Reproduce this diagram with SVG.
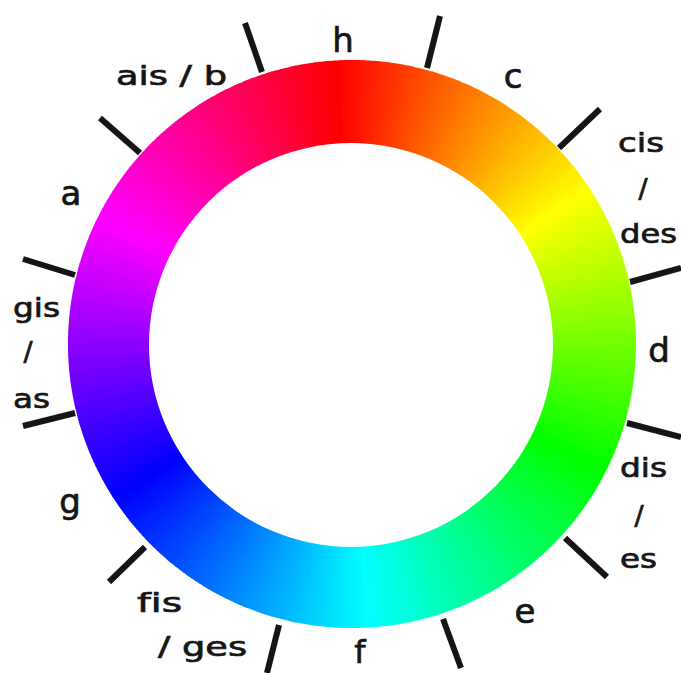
<svg xmlns="http://www.w3.org/2000/svg" xmlns:xlink="http://www.w3.org/1999/xlink" width="681" height="673" viewBox="0 0 681 673">
<style>
.lbl{font-family:"DejaVu Sans","Liberation Sans",sans-serif;font-size:27px;fill:#151515;stroke:#151515;stroke-width:0.7;font-variant-ligatures:none}
.big{font-size:34px;text-anchor:middle}
.mid{text-anchor:middle}
.tick{stroke:#151515;stroke-width:6;stroke-linecap:butt}
</style>
<defs>
<path id="w" d="M0,0 L-2.97,-283.98 A284,284 0 0 1 2.97,-283.98 Z"/>
</defs>
<rect width="681" height="673" fill="#ffffff"/>
<g id="ring">
<g transform="translate(352,344)">
<use href="#w" transform="rotate(0)" fill="hsl(3,100%,50%)"/>
<use href="#w" transform="rotate(1)" fill="hsl(4,100%,50%)"/>
<use href="#w" transform="rotate(2)" fill="hsl(5,100%,50%)"/>
<use href="#w" transform="rotate(3)" fill="hsl(6,100%,50%)"/>
<use href="#w" transform="rotate(4)" fill="hsl(7,100%,50%)"/>
<use href="#w" transform="rotate(5)" fill="hsl(8,100%,50%)"/>
<use href="#w" transform="rotate(6)" fill="hsl(9,100%,50%)"/>
<use href="#w" transform="rotate(7)" fill="hsl(10,100%,50%)"/>
<use href="#w" transform="rotate(8)" fill="hsl(11,100%,50%)"/>
<use href="#w" transform="rotate(9)" fill="hsl(12,100%,50%)"/>
<use href="#w" transform="rotate(10)" fill="hsl(13,100%,50%)"/>
<use href="#w" transform="rotate(11)" fill="hsl(14,100%,50%)"/>
<use href="#w" transform="rotate(12)" fill="hsl(15,100%,50%)"/>
<use href="#w" transform="rotate(13)" fill="hsl(16,100%,50%)"/>
<use href="#w" transform="rotate(14)" fill="hsl(17,100%,50%)"/>
<use href="#w" transform="rotate(15)" fill="hsl(18,100%,50%)"/>
<use href="#w" transform="rotate(16)" fill="hsl(19,100%,50%)"/>
<use href="#w" transform="rotate(17)" fill="hsl(20,100%,50%)"/>
<use href="#w" transform="rotate(18)" fill="hsl(21,100%,50%)"/>
<use href="#w" transform="rotate(19)" fill="hsl(22,100%,50%)"/>
<use href="#w" transform="rotate(20)" fill="hsl(23,100%,50%)"/>
<use href="#w" transform="rotate(21)" fill="hsl(24,100%,50%)"/>
<use href="#w" transform="rotate(22)" fill="hsl(25,100%,50%)"/>
<use href="#w" transform="rotate(23)" fill="hsl(26,100%,50%)"/>
<use href="#w" transform="rotate(24)" fill="hsl(27,100%,50%)"/>
<use href="#w" transform="rotate(25)" fill="hsl(28,100%,50%)"/>
<use href="#w" transform="rotate(26)" fill="hsl(29,100%,50%)"/>
<use href="#w" transform="rotate(27)" fill="hsl(30,100%,50%)"/>
<use href="#w" transform="rotate(28)" fill="hsl(31,100%,50%)"/>
<use href="#w" transform="rotate(29)" fill="hsl(32,100%,50%)"/>
<use href="#w" transform="rotate(30)" fill="hsl(33,100%,50%)"/>
<use href="#w" transform="rotate(31)" fill="hsl(34,100%,50%)"/>
<use href="#w" transform="rotate(32)" fill="hsl(35,100%,50%)"/>
<use href="#w" transform="rotate(33)" fill="hsl(36,100%,50%)"/>
<use href="#w" transform="rotate(34)" fill="hsl(37,100%,50%)"/>
<use href="#w" transform="rotate(35)" fill="hsl(38,100%,50%)"/>
<use href="#w" transform="rotate(36)" fill="hsl(39,100%,50%)"/>
<use href="#w" transform="rotate(37)" fill="hsl(40,100%,50%)"/>
<use href="#w" transform="rotate(38)" fill="hsl(41,100%,50%)"/>
<use href="#w" transform="rotate(39)" fill="hsl(42,100%,50%)"/>
<use href="#w" transform="rotate(40)" fill="hsl(43,100%,50%)"/>
<use href="#w" transform="rotate(41)" fill="hsl(44,100%,50%)"/>
<use href="#w" transform="rotate(42)" fill="hsl(45,100%,50%)"/>
<use href="#w" transform="rotate(43)" fill="hsl(46,100%,50%)"/>
<use href="#w" transform="rotate(44)" fill="hsl(47,100%,50%)"/>
<use href="#w" transform="rotate(45)" fill="hsl(48,100%,50%)"/>
<use href="#w" transform="rotate(46)" fill="hsl(49,100%,50%)"/>
<use href="#w" transform="rotate(47)" fill="hsl(50,100%,50%)"/>
<use href="#w" transform="rotate(48)" fill="hsl(51,100%,50%)"/>
<use href="#w" transform="rotate(49)" fill="hsl(52,100%,50%)"/>
<use href="#w" transform="rotate(50)" fill="hsl(53,100%,50%)"/>
<use href="#w" transform="rotate(51)" fill="hsl(54,100%,50%)"/>
<use href="#w" transform="rotate(52)" fill="hsl(55,100%,50%)"/>
<use href="#w" transform="rotate(53)" fill="hsl(56,100%,50%)"/>
<use href="#w" transform="rotate(54)" fill="hsl(57,100%,50%)"/>
<use href="#w" transform="rotate(55)" fill="hsl(58,100%,50%)"/>
<use href="#w" transform="rotate(56)" fill="hsl(59,100%,50%)"/>
<use href="#w" transform="rotate(57)" fill="hsl(60,100%,50%)"/>
<use href="#w" transform="rotate(58)" fill="hsl(61,100%,50%)"/>
<use href="#w" transform="rotate(59)" fill="hsl(62,100%,50%)"/>
<use href="#w" transform="rotate(60)" fill="hsl(63,100%,50%)"/>
<use href="#w" transform="rotate(61)" fill="hsl(64,100%,50%)"/>
<use href="#w" transform="rotate(62)" fill="hsl(65,100%,50%)"/>
<use href="#w" transform="rotate(63)" fill="hsl(66,100%,50%)"/>
<use href="#w" transform="rotate(64)" fill="hsl(67,100%,50%)"/>
<use href="#w" transform="rotate(65)" fill="hsl(68,100%,50%)"/>
<use href="#w" transform="rotate(66)" fill="hsl(69,100%,50%)"/>
<use href="#w" transform="rotate(67)" fill="hsl(70,100%,50%)"/>
<use href="#w" transform="rotate(68)" fill="hsl(71,100%,50%)"/>
<use href="#w" transform="rotate(69)" fill="hsl(72,100%,50%)"/>
<use href="#w" transform="rotate(70)" fill="hsl(73,100%,50%)"/>
<use href="#w" transform="rotate(71)" fill="hsl(74,100%,50%)"/>
<use href="#w" transform="rotate(72)" fill="hsl(75,100%,50%)"/>
<use href="#w" transform="rotate(73)" fill="hsl(76,100%,50%)"/>
<use href="#w" transform="rotate(74)" fill="hsl(77,100%,50%)"/>
<use href="#w" transform="rotate(75)" fill="hsl(78,100%,50%)"/>
<use href="#w" transform="rotate(76)" fill="hsl(79,100%,50%)"/>
<use href="#w" transform="rotate(77)" fill="hsl(80,100%,50%)"/>
<use href="#w" transform="rotate(78)" fill="hsl(81,100%,50%)"/>
<use href="#w" transform="rotate(79)" fill="hsl(82,100%,50%)"/>
<use href="#w" transform="rotate(80)" fill="hsl(83,100%,50%)"/>
<use href="#w" transform="rotate(81)" fill="hsl(84,100%,50%)"/>
<use href="#w" transform="rotate(82)" fill="hsl(85,100%,50%)"/>
<use href="#w" transform="rotate(83)" fill="hsl(86,100%,50%)"/>
<use href="#w" transform="rotate(84)" fill="hsl(87,100%,50%)"/>
<use href="#w" transform="rotate(85)" fill="hsl(88,100%,50%)"/>
<use href="#w" transform="rotate(86)" fill="hsl(89,100%,50%)"/>
<use href="#w" transform="rotate(87)" fill="hsl(90,100%,50%)"/>
<use href="#w" transform="rotate(88)" fill="hsl(91,100%,50%)"/>
<use href="#w" transform="rotate(89)" fill="hsl(92,100%,50%)"/>
<use href="#w" transform="rotate(90)" fill="hsl(93,100%,50%)"/>
<use href="#w" transform="rotate(91)" fill="hsl(94,100%,50%)"/>
<use href="#w" transform="rotate(92)" fill="hsl(95,100%,50%)"/>
<use href="#w" transform="rotate(93)" fill="hsl(96,100%,50%)"/>
<use href="#w" transform="rotate(94)" fill="hsl(97,100%,50%)"/>
<use href="#w" transform="rotate(95)" fill="hsl(98,100%,50%)"/>
<use href="#w" transform="rotate(96)" fill="hsl(99,100%,50%)"/>
<use href="#w" transform="rotate(97)" fill="hsl(100,100%,50%)"/>
<use href="#w" transform="rotate(98)" fill="hsl(101,100%,50%)"/>
<use href="#w" transform="rotate(99)" fill="hsl(102,100%,50%)"/>
<use href="#w" transform="rotate(100)" fill="hsl(103,100%,50%)"/>
<use href="#w" transform="rotate(101)" fill="hsl(104,100%,50%)"/>
<use href="#w" transform="rotate(102)" fill="hsl(105,100%,50%)"/>
<use href="#w" transform="rotate(103)" fill="hsl(106,100%,50%)"/>
<use href="#w" transform="rotate(104)" fill="hsl(107,100%,50%)"/>
<use href="#w" transform="rotate(105)" fill="hsl(108,100%,50%)"/>
<use href="#w" transform="rotate(106)" fill="hsl(109,100%,50%)"/>
<use href="#w" transform="rotate(107)" fill="hsl(110,100%,50%)"/>
<use href="#w" transform="rotate(108)" fill="hsl(111,100%,50%)"/>
<use href="#w" transform="rotate(109)" fill="hsl(112,100%,50%)"/>
<use href="#w" transform="rotate(110)" fill="hsl(113,100%,50%)"/>
<use href="#w" transform="rotate(111)" fill="hsl(114,100%,50%)"/>
<use href="#w" transform="rotate(112)" fill="hsl(115,100%,50%)"/>
<use href="#w" transform="rotate(113)" fill="hsl(116,100%,50%)"/>
<use href="#w" transform="rotate(114)" fill="hsl(117,100%,50%)"/>
<use href="#w" transform="rotate(115)" fill="hsl(118,100%,50%)"/>
<use href="#w" transform="rotate(116)" fill="hsl(119,100%,50%)"/>
<use href="#w" transform="rotate(117)" fill="hsl(120,100%,50%)"/>
<use href="#w" transform="rotate(118)" fill="hsl(121,100%,50%)"/>
<use href="#w" transform="rotate(119)" fill="hsl(122,100%,50%)"/>
<use href="#w" transform="rotate(120)" fill="hsl(123,100%,50%)"/>
<use href="#w" transform="rotate(121)" fill="hsl(124,100%,50%)"/>
<use href="#w" transform="rotate(122)" fill="hsl(125,100%,50%)"/>
<use href="#w" transform="rotate(123)" fill="hsl(126,100%,50%)"/>
<use href="#w" transform="rotate(124)" fill="hsl(127,100%,50%)"/>
<use href="#w" transform="rotate(125)" fill="hsl(128,100%,50%)"/>
<use href="#w" transform="rotate(126)" fill="hsl(129,100%,50%)"/>
<use href="#w" transform="rotate(127)" fill="hsl(130,100%,50%)"/>
<use href="#w" transform="rotate(128)" fill="hsl(131,100%,50%)"/>
<use href="#w" transform="rotate(129)" fill="hsl(132,100%,50%)"/>
<use href="#w" transform="rotate(130)" fill="hsl(133,100%,50%)"/>
<use href="#w" transform="rotate(131)" fill="hsl(134,100%,50%)"/>
<use href="#w" transform="rotate(132)" fill="hsl(135,100%,50%)"/>
<use href="#w" transform="rotate(133)" fill="hsl(136,100%,50%)"/>
<use href="#w" transform="rotate(134)" fill="hsl(137,100%,50%)"/>
<use href="#w" transform="rotate(135)" fill="hsl(138,100%,50%)"/>
<use href="#w" transform="rotate(136)" fill="hsl(139,100%,50%)"/>
<use href="#w" transform="rotate(137)" fill="hsl(140,100%,50%)"/>
<use href="#w" transform="rotate(138)" fill="hsl(141,100%,50%)"/>
<use href="#w" transform="rotate(139)" fill="hsl(142,100%,50%)"/>
<use href="#w" transform="rotate(140)" fill="hsl(143,100%,50%)"/>
<use href="#w" transform="rotate(141)" fill="hsl(144,100%,50%)"/>
<use href="#w" transform="rotate(142)" fill="hsl(145,100%,50%)"/>
<use href="#w" transform="rotate(143)" fill="hsl(146,100%,50%)"/>
<use href="#w" transform="rotate(144)" fill="hsl(147,100%,50%)"/>
<use href="#w" transform="rotate(145)" fill="hsl(148,100%,50%)"/>
<use href="#w" transform="rotate(146)" fill="hsl(149,100%,50%)"/>
<use href="#w" transform="rotate(147)" fill="hsl(150,100%,50%)"/>
<use href="#w" transform="rotate(148)" fill="hsl(151,100%,50%)"/>
<use href="#w" transform="rotate(149)" fill="hsl(152,100%,50%)"/>
<use href="#w" transform="rotate(150)" fill="hsl(153,100%,50%)"/>
<use href="#w" transform="rotate(151)" fill="hsl(154,100%,50%)"/>
<use href="#w" transform="rotate(152)" fill="hsl(155,100%,50%)"/>
<use href="#w" transform="rotate(153)" fill="hsl(156,100%,50%)"/>
<use href="#w" transform="rotate(154)" fill="hsl(157,100%,50%)"/>
<use href="#w" transform="rotate(155)" fill="hsl(158,100%,50%)"/>
<use href="#w" transform="rotate(156)" fill="hsl(159,100%,50%)"/>
<use href="#w" transform="rotate(157)" fill="hsl(160,100%,50%)"/>
<use href="#w" transform="rotate(158)" fill="hsl(161,100%,50%)"/>
<use href="#w" transform="rotate(159)" fill="hsl(162,100%,50%)"/>
<use href="#w" transform="rotate(160)" fill="hsl(163,100%,50%)"/>
<use href="#w" transform="rotate(161)" fill="hsl(164,100%,50%)"/>
<use href="#w" transform="rotate(162)" fill="hsl(165,100%,50%)"/>
<use href="#w" transform="rotate(163)" fill="hsl(166,100%,50%)"/>
<use href="#w" transform="rotate(164)" fill="hsl(167,100%,50%)"/>
<use href="#w" transform="rotate(165)" fill="hsl(168,100%,50%)"/>
<use href="#w" transform="rotate(166)" fill="hsl(169,100%,50%)"/>
<use href="#w" transform="rotate(167)" fill="hsl(170,100%,50%)"/>
<use href="#w" transform="rotate(168)" fill="hsl(171,100%,50%)"/>
<use href="#w" transform="rotate(169)" fill="hsl(172,100%,50%)"/>
<use href="#w" transform="rotate(170)" fill="hsl(173,100%,50%)"/>
<use href="#w" transform="rotate(171)" fill="hsl(174,100%,50%)"/>
<use href="#w" transform="rotate(172)" fill="hsl(175,100%,50%)"/>
<use href="#w" transform="rotate(173)" fill="hsl(176,100%,50%)"/>
<use href="#w" transform="rotate(174)" fill="hsl(177,100%,50%)"/>
<use href="#w" transform="rotate(175)" fill="hsl(178,100%,50%)"/>
<use href="#w" transform="rotate(176)" fill="hsl(179,100%,50%)"/>
<use href="#w" transform="rotate(177)" fill="hsl(180,100%,50%)"/>
<use href="#w" transform="rotate(178)" fill="hsl(181,100%,50%)"/>
<use href="#w" transform="rotate(179)" fill="hsl(182,100%,50%)"/>
<use href="#w" transform="rotate(180)" fill="hsl(183,100%,50%)"/>
<use href="#w" transform="rotate(181)" fill="hsl(184,100%,50%)"/>
<use href="#w" transform="rotate(182)" fill="hsl(185,100%,50%)"/>
<use href="#w" transform="rotate(183)" fill="hsl(186,100%,50%)"/>
<use href="#w" transform="rotate(184)" fill="hsl(187,100%,50%)"/>
<use href="#w" transform="rotate(185)" fill="hsl(188,100%,50%)"/>
<use href="#w" transform="rotate(186)" fill="hsl(189,100%,50%)"/>
<use href="#w" transform="rotate(187)" fill="hsl(190,100%,50%)"/>
<use href="#w" transform="rotate(188)" fill="hsl(191,100%,50%)"/>
<use href="#w" transform="rotate(189)" fill="hsl(192,100%,50%)"/>
<use href="#w" transform="rotate(190)" fill="hsl(193,100%,50%)"/>
<use href="#w" transform="rotate(191)" fill="hsl(194,100%,50%)"/>
<use href="#w" transform="rotate(192)" fill="hsl(195,100%,50%)"/>
<use href="#w" transform="rotate(193)" fill="hsl(196,100%,50%)"/>
<use href="#w" transform="rotate(194)" fill="hsl(197,100%,50%)"/>
<use href="#w" transform="rotate(195)" fill="hsl(198,100%,50%)"/>
<use href="#w" transform="rotate(196)" fill="hsl(199,100%,50%)"/>
<use href="#w" transform="rotate(197)" fill="hsl(200,100%,50%)"/>
<use href="#w" transform="rotate(198)" fill="hsl(201,100%,50%)"/>
<use href="#w" transform="rotate(199)" fill="hsl(202,100%,50%)"/>
<use href="#w" transform="rotate(200)" fill="hsl(203,100%,50%)"/>
<use href="#w" transform="rotate(201)" fill="hsl(204,100%,50%)"/>
<use href="#w" transform="rotate(202)" fill="hsl(205,100%,50%)"/>
<use href="#w" transform="rotate(203)" fill="hsl(206,100%,50%)"/>
<use href="#w" transform="rotate(204)" fill="hsl(207,100%,50%)"/>
<use href="#w" transform="rotate(205)" fill="hsl(208,100%,50%)"/>
<use href="#w" transform="rotate(206)" fill="hsl(209,100%,50%)"/>
<use href="#w" transform="rotate(207)" fill="hsl(210,100%,50%)"/>
<use href="#w" transform="rotate(208)" fill="hsl(211,100%,50%)"/>
<use href="#w" transform="rotate(209)" fill="hsl(212,100%,50%)"/>
<use href="#w" transform="rotate(210)" fill="hsl(213,100%,50%)"/>
<use href="#w" transform="rotate(211)" fill="hsl(214,100%,50%)"/>
<use href="#w" transform="rotate(212)" fill="hsl(215,100%,50%)"/>
<use href="#w" transform="rotate(213)" fill="hsl(216,100%,50%)"/>
<use href="#w" transform="rotate(214)" fill="hsl(217,100%,50%)"/>
<use href="#w" transform="rotate(215)" fill="hsl(218,100%,50%)"/>
<use href="#w" transform="rotate(216)" fill="hsl(219,100%,50%)"/>
<use href="#w" transform="rotate(217)" fill="hsl(220,100%,50%)"/>
<use href="#w" transform="rotate(218)" fill="hsl(221,100%,50%)"/>
<use href="#w" transform="rotate(219)" fill="hsl(222,100%,50%)"/>
<use href="#w" transform="rotate(220)" fill="hsl(223,100%,50%)"/>
<use href="#w" transform="rotate(221)" fill="hsl(224,100%,50%)"/>
<use href="#w" transform="rotate(222)" fill="hsl(225,100%,50%)"/>
<use href="#w" transform="rotate(223)" fill="hsl(226,100%,50%)"/>
<use href="#w" transform="rotate(224)" fill="hsl(227,100%,50%)"/>
<use href="#w" transform="rotate(225)" fill="hsl(228,100%,50%)"/>
<use href="#w" transform="rotate(226)" fill="hsl(229,100%,50%)"/>
<use href="#w" transform="rotate(227)" fill="hsl(230,100%,50%)"/>
<use href="#w" transform="rotate(228)" fill="hsl(231,100%,50%)"/>
<use href="#w" transform="rotate(229)" fill="hsl(232,100%,50%)"/>
<use href="#w" transform="rotate(230)" fill="hsl(233,100%,50%)"/>
<use href="#w" transform="rotate(231)" fill="hsl(234,100%,50%)"/>
<use href="#w" transform="rotate(232)" fill="hsl(235,100%,50%)"/>
<use href="#w" transform="rotate(233)" fill="hsl(236,100%,50%)"/>
<use href="#w" transform="rotate(234)" fill="hsl(237,100%,50%)"/>
<use href="#w" transform="rotate(235)" fill="hsl(238,100%,50%)"/>
<use href="#w" transform="rotate(236)" fill="hsl(239,100%,50%)"/>
<use href="#w" transform="rotate(237)" fill="hsl(240,100%,50%)"/>
<use href="#w" transform="rotate(238)" fill="hsl(241,100%,50%)"/>
<use href="#w" transform="rotate(239)" fill="hsl(242,100%,50%)"/>
<use href="#w" transform="rotate(240)" fill="hsl(243,100%,50%)"/>
<use href="#w" transform="rotate(241)" fill="hsl(244,100%,50%)"/>
<use href="#w" transform="rotate(242)" fill="hsl(245,100%,50%)"/>
<use href="#w" transform="rotate(243)" fill="hsl(246,100%,50%)"/>
<use href="#w" transform="rotate(244)" fill="hsl(247,100%,50%)"/>
<use href="#w" transform="rotate(245)" fill="hsl(248,100%,50%)"/>
<use href="#w" transform="rotate(246)" fill="hsl(249,100%,50%)"/>
<use href="#w" transform="rotate(247)" fill="hsl(250,100%,50%)"/>
<use href="#w" transform="rotate(248)" fill="hsl(251,100%,50%)"/>
<use href="#w" transform="rotate(249)" fill="hsl(252,100%,50%)"/>
<use href="#w" transform="rotate(250)" fill="hsl(253,100%,50%)"/>
<use href="#w" transform="rotate(251)" fill="hsl(254,100%,50%)"/>
<use href="#w" transform="rotate(252)" fill="hsl(255,100%,50%)"/>
<use href="#w" transform="rotate(253)" fill="hsl(256,100%,50%)"/>
<use href="#w" transform="rotate(254)" fill="hsl(257,100%,50%)"/>
<use href="#w" transform="rotate(255)" fill="hsl(258,100%,50%)"/>
<use href="#w" transform="rotate(256)" fill="hsl(259,100%,50%)"/>
<use href="#w" transform="rotate(257)" fill="hsl(260,100%,50%)"/>
<use href="#w" transform="rotate(258)" fill="hsl(261,100%,50%)"/>
<use href="#w" transform="rotate(259)" fill="hsl(262,100%,50%)"/>
<use href="#w" transform="rotate(260)" fill="hsl(263,100%,50%)"/>
<use href="#w" transform="rotate(261)" fill="hsl(264,100%,50%)"/>
<use href="#w" transform="rotate(262)" fill="hsl(265,100%,50%)"/>
<use href="#w" transform="rotate(263)" fill="hsl(266,100%,50%)"/>
<use href="#w" transform="rotate(264)" fill="hsl(267,100%,50%)"/>
<use href="#w" transform="rotate(265)" fill="hsl(268,100%,50%)"/>
<use href="#w" transform="rotate(266)" fill="hsl(269,100%,50%)"/>
<use href="#w" transform="rotate(267)" fill="hsl(270,100%,50%)"/>
<use href="#w" transform="rotate(268)" fill="hsl(271,100%,50%)"/>
<use href="#w" transform="rotate(269)" fill="hsl(272,100%,50%)"/>
<use href="#w" transform="rotate(270)" fill="hsl(273,100%,50%)"/>
<use href="#w" transform="rotate(271)" fill="hsl(274,100%,50%)"/>
<use href="#w" transform="rotate(272)" fill="hsl(275,100%,50%)"/>
<use href="#w" transform="rotate(273)" fill="hsl(276,100%,50%)"/>
<use href="#w" transform="rotate(274)" fill="hsl(277,100%,50%)"/>
<use href="#w" transform="rotate(275)" fill="hsl(278,100%,50%)"/>
<use href="#w" transform="rotate(276)" fill="hsl(279,100%,50%)"/>
<use href="#w" transform="rotate(277)" fill="hsl(280,100%,50%)"/>
<use href="#w" transform="rotate(278)" fill="hsl(281,100%,50%)"/>
<use href="#w" transform="rotate(279)" fill="hsl(282,100%,50%)"/>
<use href="#w" transform="rotate(280)" fill="hsl(283,100%,50%)"/>
<use href="#w" transform="rotate(281)" fill="hsl(284,100%,50%)"/>
<use href="#w" transform="rotate(282)" fill="hsl(285,100%,50%)"/>
<use href="#w" transform="rotate(283)" fill="hsl(286,100%,50%)"/>
<use href="#w" transform="rotate(284)" fill="hsl(287,100%,50%)"/>
<use href="#w" transform="rotate(285)" fill="hsl(288,100%,50%)"/>
<use href="#w" transform="rotate(286)" fill="hsl(289,100%,50%)"/>
<use href="#w" transform="rotate(287)" fill="hsl(290,100%,50%)"/>
<use href="#w" transform="rotate(288)" fill="hsl(291,100%,50%)"/>
<use href="#w" transform="rotate(289)" fill="hsl(292,100%,50%)"/>
<use href="#w" transform="rotate(290)" fill="hsl(293,100%,50%)"/>
<use href="#w" transform="rotate(291)" fill="hsl(294,100%,50%)"/>
<use href="#w" transform="rotate(292)" fill="hsl(295,100%,50%)"/>
<use href="#w" transform="rotate(293)" fill="hsl(296,100%,50%)"/>
<use href="#w" transform="rotate(294)" fill="hsl(297,100%,50%)"/>
<use href="#w" transform="rotate(295)" fill="hsl(298,100%,50%)"/>
<use href="#w" transform="rotate(296)" fill="hsl(299,100%,50%)"/>
<use href="#w" transform="rotate(297)" fill="hsl(300,100%,50%)"/>
<use href="#w" transform="rotate(298)" fill="hsl(301,100%,50%)"/>
<use href="#w" transform="rotate(299)" fill="hsl(302,100%,50%)"/>
<use href="#w" transform="rotate(300)" fill="hsl(303,100%,50%)"/>
<use href="#w" transform="rotate(301)" fill="hsl(304,100%,50%)"/>
<use href="#w" transform="rotate(302)" fill="hsl(305,100%,50%)"/>
<use href="#w" transform="rotate(303)" fill="hsl(306,100%,50%)"/>
<use href="#w" transform="rotate(304)" fill="hsl(307,100%,50%)"/>
<use href="#w" transform="rotate(305)" fill="hsl(308,100%,50%)"/>
<use href="#w" transform="rotate(306)" fill="hsl(309,100%,50%)"/>
<use href="#w" transform="rotate(307)" fill="hsl(310,100%,50%)"/>
<use href="#w" transform="rotate(308)" fill="hsl(311,100%,50%)"/>
<use href="#w" transform="rotate(309)" fill="hsl(312,100%,50%)"/>
<use href="#w" transform="rotate(310)" fill="hsl(313,100%,50%)"/>
<use href="#w" transform="rotate(311)" fill="hsl(314,100%,50%)"/>
<use href="#w" transform="rotate(312)" fill="hsl(315,100%,50%)"/>
<use href="#w" transform="rotate(313)" fill="hsl(316,100%,50%)"/>
<use href="#w" transform="rotate(314)" fill="hsl(317,100%,50%)"/>
<use href="#w" transform="rotate(315)" fill="hsl(318,100%,50%)"/>
<use href="#w" transform="rotate(316)" fill="hsl(319,100%,50%)"/>
<use href="#w" transform="rotate(317)" fill="hsl(320,100%,50%)"/>
<use href="#w" transform="rotate(318)" fill="hsl(321,100%,50%)"/>
<use href="#w" transform="rotate(319)" fill="hsl(322,100%,50%)"/>
<use href="#w" transform="rotate(320)" fill="hsl(323,100%,50%)"/>
<use href="#w" transform="rotate(321)" fill="hsl(324,100%,50%)"/>
<use href="#w" transform="rotate(322)" fill="hsl(325,100%,50%)"/>
<use href="#w" transform="rotate(323)" fill="hsl(326,100%,50%)"/>
<use href="#w" transform="rotate(324)" fill="hsl(327,100%,50%)"/>
<use href="#w" transform="rotate(325)" fill="hsl(328,100%,50%)"/>
<use href="#w" transform="rotate(326)" fill="hsl(329,100%,50%)"/>
<use href="#w" transform="rotate(327)" fill="hsl(330,100%,50%)"/>
<use href="#w" transform="rotate(328)" fill="hsl(331,100%,50%)"/>
<use href="#w" transform="rotate(329)" fill="hsl(332,100%,50%)"/>
<use href="#w" transform="rotate(330)" fill="hsl(333,100%,50%)"/>
<use href="#w" transform="rotate(331)" fill="hsl(334,100%,50%)"/>
<use href="#w" transform="rotate(332)" fill="hsl(335,100%,50%)"/>
<use href="#w" transform="rotate(333)" fill="hsl(336,100%,50%)"/>
<use href="#w" transform="rotate(334)" fill="hsl(337,100%,50%)"/>
<use href="#w" transform="rotate(335)" fill="hsl(338,100%,50%)"/>
<use href="#w" transform="rotate(336)" fill="hsl(339,100%,50%)"/>
<use href="#w" transform="rotate(337)" fill="hsl(340,100%,50%)"/>
<use href="#w" transform="rotate(338)" fill="hsl(341,100%,50%)"/>
<use href="#w" transform="rotate(339)" fill="hsl(342,100%,50%)"/>
<use href="#w" transform="rotate(340)" fill="hsl(343,100%,50%)"/>
<use href="#w" transform="rotate(341)" fill="hsl(344,100%,50%)"/>
<use href="#w" transform="rotate(342)" fill="hsl(345,100%,50%)"/>
<use href="#w" transform="rotate(343)" fill="hsl(346,100%,50%)"/>
<use href="#w" transform="rotate(344)" fill="hsl(347,100%,50%)"/>
<use href="#w" transform="rotate(345)" fill="hsl(348,100%,50%)"/>
<use href="#w" transform="rotate(346)" fill="hsl(349,100%,50%)"/>
<use href="#w" transform="rotate(347)" fill="hsl(350,100%,50%)"/>
<use href="#w" transform="rotate(348)" fill="hsl(351,100%,50%)"/>
<use href="#w" transform="rotate(349)" fill="hsl(352,100%,50%)"/>
<use href="#w" transform="rotate(350)" fill="hsl(353,100%,50%)"/>
<use href="#w" transform="rotate(351)" fill="hsl(354,100%,50%)"/>
<use href="#w" transform="rotate(352)" fill="hsl(355,100%,50%)"/>
<use href="#w" transform="rotate(353)" fill="hsl(356,100%,50%)"/>
<use href="#w" transform="rotate(354)" fill="hsl(357,100%,50%)"/>
<use href="#w" transform="rotate(355)" fill="hsl(358,100%,50%)"/>
<use href="#w" transform="rotate(356)" fill="hsl(359,100%,50%)"/>
<use href="#w" transform="rotate(357)" fill="hsl(0,100%,50%)"/>
<use href="#w" transform="rotate(358)" fill="hsl(1,100%,50%)"/>
<use href="#w" transform="rotate(359)" fill="hsl(2,100%,50%)"/>
</g>
<circle cx="351" cy="345" r="202" fill="#ffffff"/>
</g>
<g id="ticks">
<line class="tick" x1="262" y1="72" x2="245" y2="23"/>
<line class="tick" x1="427" y1="68" x2="440" y2="16"/>
<line class="tick" x1="559" y1="148" x2="600" y2="109"/>
<line class="tick" x1="630" y1="282" x2="681" y2="268"/>
<line class="tick" x1="627" y1="423" x2="681" y2="437"/>
<line class="tick" x1="565" y1="538" x2="607" y2="577"/>
<line class="tick" x1="443" y1="619" x2="461" y2="668"/>
<line class="tick" x1="279" y1="625" x2="267" y2="673"/>
<line class="tick" x1="145" y1="547" x2="109" y2="582"/>
<line class="tick" x1="75" y1="413" x2="23" y2="426"/>
<line class="tick" x1="75" y1="275" x2="23" y2="259"/>
<line class="tick" x1="140" y1="153" x2="100" y2="118"/>
</g>
<g id="labels">
<text id="l-h" class="lbl big" x="343" y="52">h</text>
<text id="l-c" class="lbl big" x="513" y="88">c</text>
<g id="l-cis">
<text class="lbl" x="618" y="152" textLength="46" lengthAdjust="spacingAndGlyphs">cis</text>
<text class="lbl mid" x="643" y="198">/</text>
<text class="lbl" x="620" y="243" textLength="57" lengthAdjust="spacingAndGlyphs">des</text>
</g>
<text id="l-d" class="lbl big" x="659" y="362">d</text>
<g id="l-dis">
<text class="lbl" x="620" y="477" textLength="47" lengthAdjust="spacingAndGlyphs">dis</text>
<text class="lbl mid" x="639" y="525">/</text>
<text class="lbl" x="620" y="568" textLength="37" lengthAdjust="spacingAndGlyphs">es</text>
</g>
<text id="l-e" class="lbl big" x="525" y="623">e</text>
<text id="l-f" class="lbl big" x="360" y="663" style="font-size:32px">f</text>
<g id="l-fis">
<text class="lbl" x="137" y="612" textLength="45" lengthAdjust="spacingAndGlyphs">fis</text>
<text class="lbl" x="158" y="656" textLength="89" lengthAdjust="spacingAndGlyphs">/ ges</text>
</g>
<text id="l-g" class="lbl big" x="70" y="513">g</text>
<g id="l-gis">
<text class="lbl" x="13" y="317" textLength="47" lengthAdjust="spacingAndGlyphs">gis</text>
<text class="lbl mid" x="28" y="361">/</text>
<text class="lbl" x="13" y="408" textLength="37" lengthAdjust="spacingAndGlyphs">as</text>
</g>
<text id="l-a" class="lbl big" x="71" y="205">a</text>
<text id="l-ais" class="lbl" x="116" y="85" textLength="111" lengthAdjust="spacingAndGlyphs">ais / b</text>
</g>
</svg>
